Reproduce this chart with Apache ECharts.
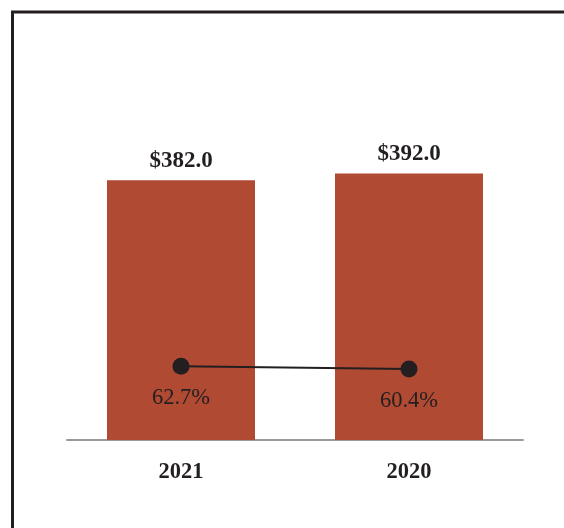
<!DOCTYPE html>
<html>
<head>
<meta charset="utf-8">
<style>
  html, body { margin: 0; padding: 0; background: #ffffff; }
  #chart { width: 564px; height: 528px; }
</style>
<script src="https://cdn.jsdelivr.net/npm/echarts@6/dist/echarts.min.js"></script>
</head>
<body>
<div id="chart"></div>
<script>
// Revenue (in millions) and margin by year
const years = ['2021', '2020'];
const revenue = [382.0, 392.0];
const marginPct = [62.7, 60.4];

const chart = echarts.init(document.getElementById('chart'), null, { renderer: 'canvas' });
const serif = '"Liberation Serif", "DejaVu Serif", serif';
const ink = '#231f20';

chart.setOption({
  animation: false,
  backgroundColor: '#ffffff',
  graphic: [{
    type: 'rect',
    shape: { x: 12.5, y: 12, width: 700, height: 700 },
    style: { fill: 'none', stroke: ink, lineWidth: 3 },
    silent: true
  }],
  grid: { left: 67, right: 41, top: 100, bottom: 88 },
  xAxis: {
    type: 'category',
    data: years,
    axisLine: { show: true, lineStyle: { color: '#9a9a9a', width: 2 } },
    axisTick: { show: false },
    axisLabel: {
      margin: 21,
      fontFamily: serif, fontSize: 22.5, fontWeight: 'bold', color: ink
    }
  },
  yAxis: [
    { type: 'value', min: 0, max: 500, show: false, splitLine: { show: false } },
    { type: 'value', min: 0, max: 289, show: false, splitLine: { show: false } }
  ],
  series: [
    {
      type: 'bar',
      data: revenue,
      barWidth: 148,
      itemStyle: { color: '#b04a33' },
      label: {
        show: true,
        position: 'top',
        distance: 8,
        formatter: p => '$' + p.value.toFixed(1),
        fontFamily: serif, fontSize: 23, fontWeight: 'bold', color: ink
      },
      z: 1
    },
    {
      type: 'line',
      yAxisIndex: 1,
      data: marginPct,
      symbol: 'circle',
      symbolSize: 17,
      lineStyle: { color: ink, width: 2 },
      itemStyle: { color: ink },
      label: {
        show: true,
        position: 'bottom',
        distance: 12,
        formatter: p => p.value.toFixed(1) + '%',
        fontFamily: serif, fontSize: 22.5, color: ink
      },
      z: 3
    }
  ]
});
</script>
</body>
</html>
